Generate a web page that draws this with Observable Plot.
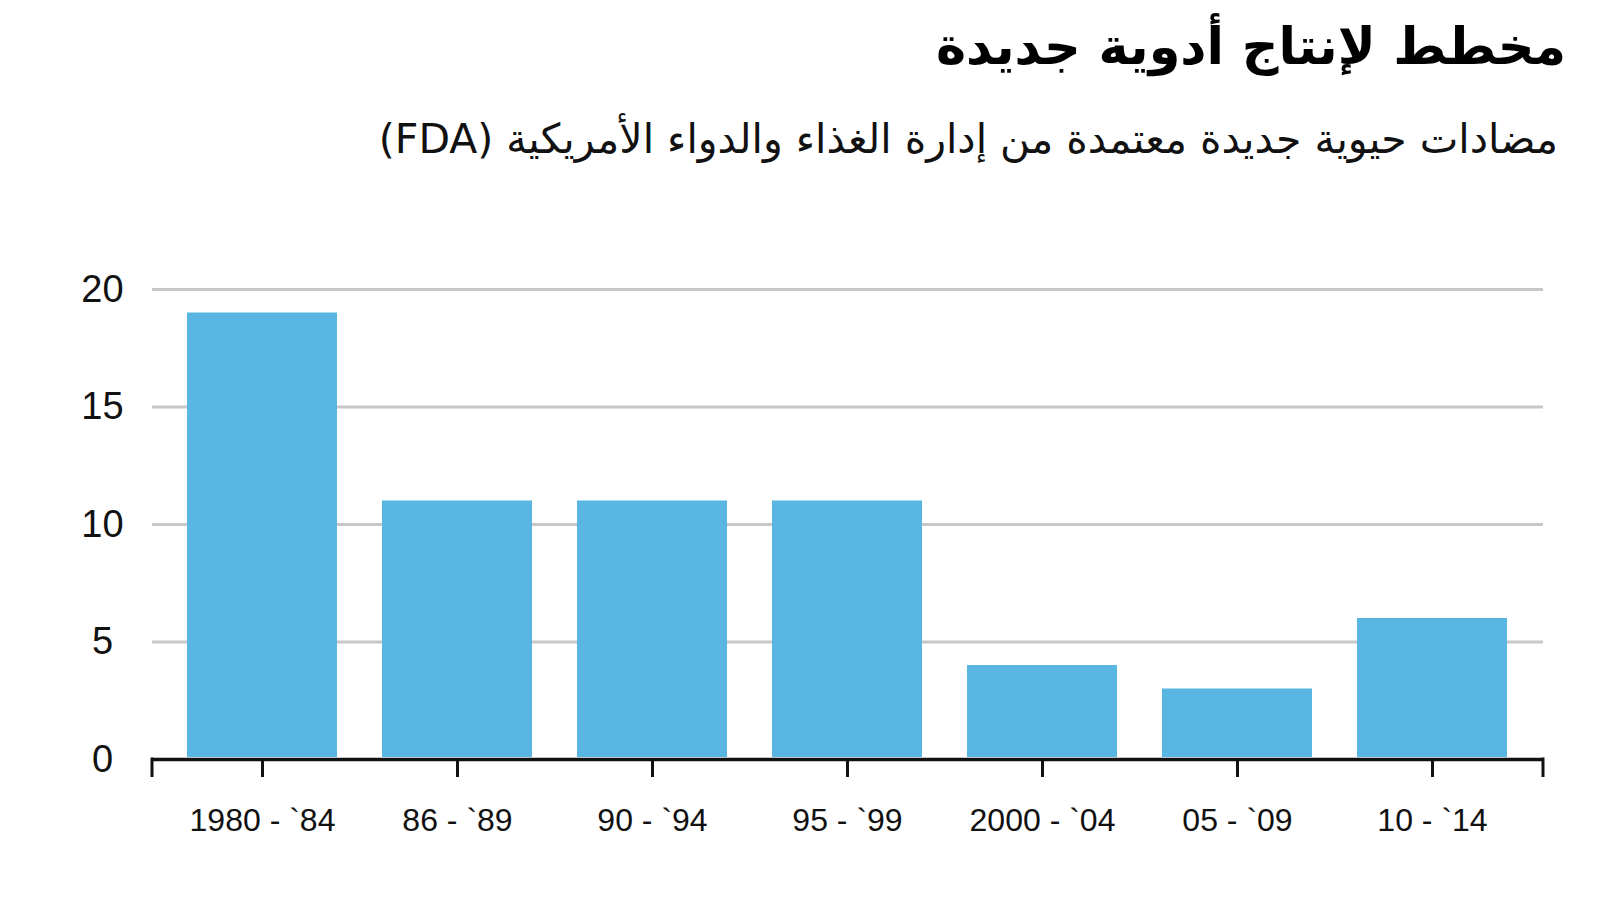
<!DOCTYPE html>
<html lang="ar">
<head>
<meta charset="utf-8">
<script src="https://cdn.jsdelivr.net/npm/d3@7"></script>
<script src="https://cdn.jsdelivr.net/npm/@observablehq/plot@0.6"></script>
<style>
  html, body { margin: 0; padding: 0; background: #fff; }
  #page { position: relative; width: 1600px; height: 900px; overflow: hidden; }
  #title { position: absolute; right: 34px; top: 17px; direction: rtl; font-family: "DejaVu Sans", sans-serif; font-weight: bold; font-size: 51px; color: #000; white-space: nowrap; }
  #subtitle { position: absolute; right: 42px; top: 115px; direction: rtl; font-family: "DejaVu Sans", sans-serif; font-size: 41px; color: #111; white-space: nowrap; }
  #chart { position: absolute; left: 0; top: 200px; }
</style>
</head>
<body>
<div id="page">
  <div id="title">مخطط لإنتاج أدوية جديدة</div>
  <div id="subtitle">مضادات حيوية جديدة معتمدة من إدارة الغذاء والدواء الأمريكية (FDA)</div>
  <div id="chart"></div>
</div>
<script>
const categories = ["1980 - `84", "86 - `89", "90 - `94", "95 - `99", "2000 - `04", "05 - `09", "10 - `14"];
const values = [19, 11, 11, 11, 4, 3, 6];
const yTicks = [0, 5, 10, 15, 20];

const data = categories.map((c, i) => ({cat: c, value: values[i]}));

function endTicks(index, scales, vals, dims) {
  const g = document.createElementNS("http://www.w3.org/2000/svg", "g");
  const y0 = scales.y(0);
  const xs = [dims.marginLeft, dims.width - dims.marginRight];
  for (const x of xs) {
    const l = document.createElementNS("http://www.w3.org/2000/svg", "line");
    l.setAttribute("x1", x); l.setAttribute("x2", x);
    l.setAttribute("y1", y0 - 1.5); l.setAttribute("y2", y0 + 18);
    l.setAttribute("stroke", "#111"); l.setAttribute("stroke-width", 3);
    g.appendChild(l);
  }
  return g;
}

const chart = Plot.plot({
  width: 1600,
  height: 680,
  marginTop: 89,
  marginBottom: 121,
  marginLeft: 152,
  marginRight: 57,
  style: {fontFamily: "'Liberation Sans', Arial, sans-serif", color: "#111", background: "white", overflow: "visible"},
  x: {domain: categories, paddingInner: 0.23, paddingOuter: 0.18, label: null},
  y: {domain: [0, 20], label: null},
  marks: [
    Plot.gridY(yTicks, {stroke: "#c8c8c8", strokeOpacity: 1, strokeWidth: 3}),
    Plot.barY(data, {x: "cat", y: "value", fill: "#59b5e1", insetBottom: 2}),
    Plot.ruleY([0], {stroke: "#111", strokeWidth: 3.5}),
    Plot.axisX({tickSize: 18, tickPadding: 31, fontSize: 32, stroke: "#111", strokeWidth: 3, label: null}),
    Plot.axisY(yTicks, {tickSize: 0, tickPadding: 50, textAnchor: "middle", fontSize: 38, label: null}),
    endTicks
  ]
});
document.getElementById("chart").appendChild(chart);
</script>
</body>
</html>
